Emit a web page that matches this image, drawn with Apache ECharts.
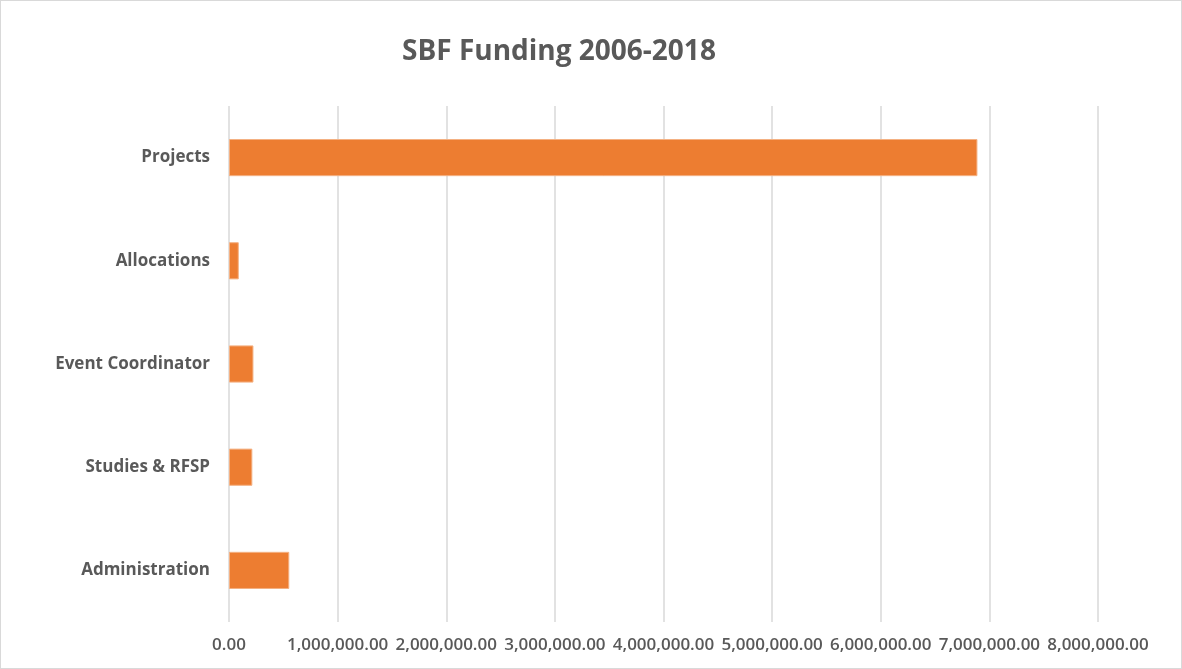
<!DOCTYPE html>
<html>
<head>
<meta charset="utf-8">
<script src="https://cdn.jsdelivr.net/npm/echarts@6/dist/echarts.min.js"></script>
<style>
  html, body { margin: 0; padding: 0; background: #fff; }
  #frame { width: 1182px; height: 669px; box-sizing: border-box; border: 1px solid #d9d9d9; }
  #main { width: 1180px; height: 667px; }
</style>
</head>
<body>
<div id="frame"><div id="main"></div></div>
<script>
  // data, top to bottom as in the picture
  const categories = ['Projects', 'Allocations', 'Event Coordinator', 'Studies & RFSP', 'Administration'];
  const funding = [6890000, 90000, 225000, 215000, 555000];
  const tickMax = 8000000;
  const tickStep = 1000000;

  let chartDom = document.getElementById('main');
  let myChart = echarts.init(chartDom);
  let option;

  option = {
    title: {
      text: 'SBF Funding 2006-2018',
      left: 396,
      top: 32,
      textStyle: {
        fontFamily: 'Open Sans',
        fontSize: 28,
        fontWeight: 700,
        color: '#595959',
      },
    },
    grid: {
      left: 228,
      right: 83,
      top: 105,
      bottom: 46,
      containLabel: false,
    },
    xAxis: {
      type: 'value',
      min: 0,
      max: tickMax,
      interval: tickStep,
      axisLine: { show: false },
      axisTick: { show: false },
      splitLine: { lineStyle: { color: '#d9d9d9', width: 1.5 } },
      axisLabel: {
        margin: 15,
        fontFamily: 'Open Sans',
        fontSize: 17,
        fontWeight: 600,
        color: '#595959',
        formatter: (v) => v.toLocaleString('en-US', { minimumFractionDigits: 2, maximumFractionDigits: 2 }),
      },
    },
    yAxis: {
      type: 'category',
      inverse: true,
      data: categories,
      axisLine: { show: false },
      axisTick: { show: false },
      axisLabel: {
        margin: 19,
        fontFamily: 'Open Sans',
        fontSize: 17,
        fontWeight: 700,
        color: '#595959',
      },
    },
    series: [
      {
        type: 'bar',
        data: funding,
        barCategoryGap: '64%',
        itemStyle: {
          color: '#ed7d31',
          borderColor: '#f4b183',
          borderWidth: 1,
        },
      },
    ],
  };

  option && myChart.setOption(option);
</script>
</body>
</html>
